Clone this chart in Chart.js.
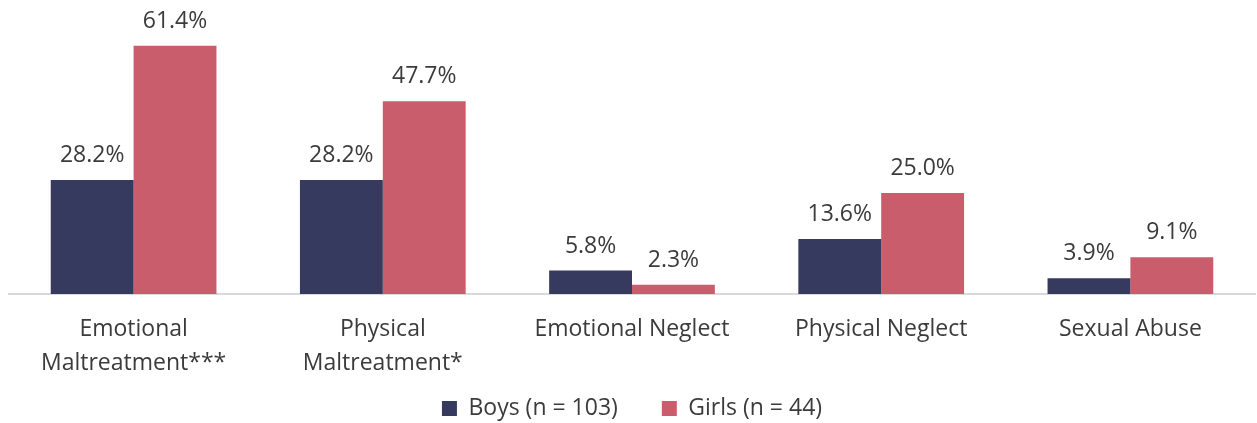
<!DOCTYPE html>
<html>
<head>
<meta charset="utf-8">
<script src="https://cdn.jsdelivr.net/npm/chart.js@4"></script>
<style>
  html, body { margin: 0; padding: 0; background: #fff; }
  #wrap { width: 1257px; height: 423px; }
</style>
</head>
<body>
<div id="wrap"><canvas id="abuseChart"></canvas></div>
<script>
const categories = [
    ['Emotional', 'Maltreatment***'],
    ['Physical', 'Maltreatment*'],
    'Emotional Neglect',
    'Physical Neglect',
    'Sexual Abuse'
];
const boys = [28.2, 28.2, 5.8, 13.6, 3.9];
const girls = [61.4, 47.7, 2.3, 25.0, 9.1];
const seriesNames = ['Boys (n = 103)', 'Girls (n = 44)'];

const textColor = '#3b3b3b';
const fontName = '"Open Sans", sans-serif';

// draws the percentage above each bar
const valueLabels = {
    id: 'valueLabels',
    afterDatasetsDraw(chart) {
        const ctx = chart.ctx;
        ctx.save();
        ctx.font = '23px ' + fontName;
        ctx.fillStyle = textColor;
        ctx.textAlign = 'center';
        ctx.textBaseline = 'alphabetic';
        chart.data.datasets.forEach((ds, i) => {
            chart.getDatasetMeta(i).data.forEach((bar, j) => {
                ctx.fillText(ds.data[j].toFixed(1) + '%', bar.x, bar.y - 18);
            });
        });
        ctx.restore();
    }
};

// the x axis is kept short so the legend sits close; let its labels draw past it
const unclipLabels = {
    id: 'unclipLabels',
    afterLayout(chart) {
        chart.scales.x.bottom = chart.height;
    }
};

const ctx = document.getElementById('abuseChart').getContext('2d');
const abuseChart = new Chart(ctx, {
    type: 'bar',
    data: {
        labels: categories,
        datasets: [{
            label: seriesNames[0],
            data: boys,
            backgroundColor: '#363a5e'
        }, {
            label: seriesNames[1],
            data: girls,
            backgroundColor: '#c95d6b'
        }]
    },
    options: {
        responsive: true,
        maintainAspectRatio: false,
        animation: false,
        layout: { padding: { top: 11, left: 9, right: 2, bottom: -7 } },
        datasets: {
            bar: { categoryPercentage: 0.665, barPercentage: 1.0 }
        },
        scales: {
            y: {
                display: false,
                min: 0,
                max: 70
            },
            x: {
                grid: { display: true, drawOnChartArea: false, drawTicks: false, color: 'rgba(0,0,0,0)' },
                border: { display: true, color: '#d9d9d9', width: 2 },
                ticks: {
                    color: textColor,
                    padding: 19,
                    font: { family: fontName, size: 23, lineHeight: 1.45 }
                },
                afterFit(scale) { scale.height = 59; }
            }
        },
        plugins: {
            legend: {
                position: 'bottom',
                labels: {
                    color: textColor,
                    boxWidth: 15,
                    boxHeight: 15,
                    padding: 44,
                    font: { family: fontName, size: 23 }
                }
            },
            tooltip: { enabled: false }
        }
    },
    plugins: [valueLabels, unclipLabels]
});
</script>
</body>
</html>
